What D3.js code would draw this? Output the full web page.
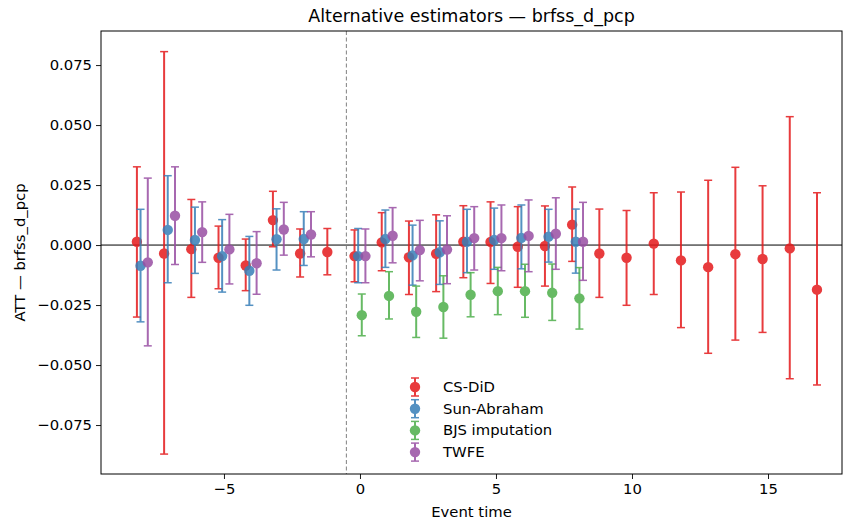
<!DOCTYPE html>
<html>
<head>
<meta charset="utf-8">
<script src="https://cdn.jsdelivr.net/npm/d3@7"></script>
<style>
  body { margin: 0; background: #fff; }
  svg { display: block; font-family: "DejaVu Sans", sans-serif; }
</style>
</head>
<body>
<div id="chart"></div>
<script>
// event times per estimator
const csTimes = [-8, -7, -6, -5, -4, -3, -2, -1, 0, 1, 2, 3, 4, 5, 6, 7, 8, 9, 10, 11, 12, 13, 14, 15, 16, 17];
const csEst = [0.0014, -0.0035, -0.0017, -0.0053, -0.0085, 0.0104, -0.0035, -0.0029, -0.0046, 0.0011, -0.0051, -0.0036, 0.0014, 0.0013, -0.0007, -0.0004, 0.0085, -0.0035, -0.0053, 0.0006, -0.0064, -0.0092, -0.0038, -0.0058, -0.0014, -0.0186];
const csLo = [-0.0300, -0.0871, -0.0218, -0.0182, -0.0190, -0.0007, -0.0133, -0.0124, -0.0153, -0.0107, -0.0206, -0.0194, -0.0136, -0.0160, -0.0176, -0.0171, -0.0068, -0.0218, -0.0251, -0.0206, -0.0344, -0.0451, -0.0396, -0.0364, -0.0557, -0.0583];
const csHi = [0.0326, 0.0806, 0.0190, 0.0079, 0.0025, 0.0224, 0.0067, 0.0069, 0.0063, 0.0135, 0.0100, 0.0126, 0.0164, 0.0180, 0.0160, 0.0163, 0.0242, 0.0150, 0.0144, 0.0218, 0.0221, 0.0270, 0.0324, 0.0247, 0.0535, 0.0218];

const saTimes = [-8, -7, -6, -5, -4, -3, -2, 0, 1, 2, 3, 4, 5, 6, 7, 8];
const saEst = [-0.0086, 0.0063, 0.0021, -0.0046, -0.0107, 0.0024, 0.0025, -0.0046, 0.0025, -0.0043, -0.0030, 0.0014, 0.0021, 0.0030, 0.0035, 0.0014];
const saLo = [-0.0320, -0.0157, -0.0118, -0.0196, -0.0251, -0.0104, -0.0085, -0.0157, -0.0093, -0.0167, -0.0164, -0.0115, -0.0101, -0.0099, -0.0071, -0.0117];
const saHi = [0.0149, 0.0289, 0.0158, 0.0106, 0.0036, 0.0151, 0.0139, 0.0069, 0.0146, 0.0083, 0.0101, 0.0149, 0.0154, 0.0167, 0.0149, 0.0150];

const bjsTimes = [0, 1, 2, 3, 4, 5, 6, 7, 8];
const bjsEst = [-0.0292, -0.0212, -0.0278, -0.0258, -0.0207, -0.0192, -0.0192, -0.0199, -0.0222];
const bjsLo = [-0.0378, -0.0308, -0.0385, -0.0388, -0.0299, -0.0290, -0.0301, -0.0314, -0.0350];
const bjsHi = [-0.0204, -0.0111, -0.0171, -0.0128, -0.0115, -0.0093, -0.0080, -0.0079, -0.0094];

const twTimes = [-8, -7, -6, -5, -4, -3, -2, 0, 1, 2, 3, 4, 5, 6, 7, 8];
const twEst = [-0.0072, 0.0122, 0.0054, -0.0018, -0.0076, 0.0065, 0.0044, -0.0046, 0.0039, -0.0021, -0.0019, 0.0029, 0.0029, 0.0038, 0.0047, 0.0014];
const twLo = [-0.0420, -0.0081, -0.0072, -0.0162, -0.0205, -0.0042, -0.0049, -0.0157, -0.0074, -0.0149, -0.0161, -0.0104, -0.0107, -0.0111, -0.0101, -0.0147];
const twHi = [0.0279, 0.0326, 0.0180, 0.0128, 0.0056, 0.0178, 0.0139, 0.0067, 0.0156, 0.0103, 0.0122, 0.0160, 0.0167, 0.0188, 0.0197, 0.0178];

const seriesNames = ['CS-DiD', 'Sun-Abraham', 'BJS imputation', 'TWFE'];
const seriesColors = ['#e41a1c', '#377eb8', '#4daf4a', '#984ea3'];
const xTicks = [-5, 0, 5, 10, 15];
const yTicks = [-0.075, -0.05, -0.025, 0, 0.025, 0.05, 0.075];

const series = [
  { times: csTimes, est: csEst, lo: csLo, hi: csHi },
  { times: saTimes, est: saEst, lo: saLo, hi: saHi },
  { times: bjsTimes, est: bjsEst, lo: bjsLo, hi: bjsHi },
  { times: twTimes, est: twEst, lo: twLo, hi: twHi }
].map((s, i) => ({
  ...s,
  name: seriesNames[i],
  color: seriesColors[i],
  offset: -0.2 + i * (0.4 / 3)
}));

const width = 843, height = 522;
const margin = { top: 31, right: 1, bottom: 48, left: 101 };
const plotW = width - margin.left - margin.right;
const plotH = height - margin.top - margin.bottom;
const fontSize = 14.8;

const svg = d3.select('#chart').append('svg')
  .attr('width', width)
  .attr('height', height);

const g = svg.append('g')
  .attr('transform', `translate(${margin.left},${margin.top})`);

const x = d3.scaleLinear().domain([-9.52, 17.72]).range([0, plotW]);
const y = d3.scaleLinear().domain([-0.0954, 0.0892]).range([plotH, 0]);

// clip
svg.append('defs').append('clipPath').attr('id', 'clip')
  .append('rect').attr('width', plotW).attr('height', plotH);

const plot = g.append('g').attr('clip-path', 'url(#clip)');

// zero line
plot.append('line')
  .attr('x1', 0).attr('x2', plotW)
  .attr('y1', y(0)).attr('y2', y(0))
  .attr('stroke', '#000').attr('stroke-width', 1);

// treatment line
plot.append('line')
  .attr('x1', x(-0.5)).attr('x2', x(-0.5))
  .attr('y1', 0).attr('y2', plotH)
  .attr('stroke', '#808080').attr('stroke-width', 1)
  .attr('stroke-dasharray', '4,2.5');

const capW = 4;

series.forEach(s => {
  const sg = plot.append('g').attr('opacity', 0.85);
  const rows = s.times.map((t, i) => ({ t: t + s.offset, est: s.est[i], lo: s.lo[i], hi: s.hi[i] }));

  sg.selectAll('.bar').data(rows).enter().append('line')
    .attr('x1', d => x(d.t)).attr('x2', d => x(d.t))
    .attr('y1', d => y(d.lo)).attr('y2', d => y(d.hi))
    .attr('stroke', s.color).attr('stroke-width', 2);

  ['lo', 'hi'].forEach(k => {
    sg.selectAll('.cap-' + k).data(rows).enter().append('line')
      .attr('x1', d => x(d.t) - capW).attr('x2', d => x(d.t) + capW)
      .attr('y1', d => y(d[k])).attr('y2', d => y(d[k]))
      .attr('stroke', s.color).attr('stroke-width', 1.5);
  });

  sg.selectAll('.pt').data(rows).enter().append('circle')
    .attr('cx', d => x(d.t)).attr('cy', d => y(d.est))
    .attr('r', 5.2)
    .attr('fill', s.color);
});

// axes
const xAxis = g.append('g')
  .attr('transform', `translate(0,${plotH})`)
  .call(d3.axisBottom(x).tickValues(xTicks).tickSize(5).tickPadding(4)
    .tickFormat(d => d < 0 ? '\u2212' + Math.abs(d) : d));
const yAxis = g.append('g')
  .call(d3.axisLeft(y).tickValues(yTicks).tickSize(5).tickPadding(4)
    .tickFormat(d => (d < 0 ? '\u2212' : '') + Math.abs(d).toFixed(3)));

[xAxis, yAxis].forEach(a => {
  a.select('.domain').remove();
  a.selectAll('text').attr('font-size', fontSize).attr('fill', '#000')
    .attr('font-family', '"DejaVu Sans", sans-serif');
  a.selectAll('line').attr('stroke', '#000').attr('stroke-width', 0.9);
});

// frame
g.append('rect')
  .attr('width', plotW).attr('height', plotH)
  .attr('fill', 'none').attr('stroke', '#000').attr('stroke-width', 1);

// title and labels
svg.append('text')
  .attr('x', margin.left + plotW / 2).attr('y', 22)
  .attr('text-anchor', 'middle')
  .attr('font-size', 17.5)
  .text('Alternative estimators \u2014 brfss_d_pcp');

svg.append('text')
  .attr('x', margin.left + plotW / 2).attr('y', 517)
  .attr('text-anchor', 'middle')
  .attr('font-size', fontSize)
  .text('Event time');

svg.append('text')
  .attr('transform', `translate(25,${margin.top + plotH / 2}) rotate(-90)`)
  .attr('text-anchor', 'middle')
  .attr('font-size', fontSize)
  .text('ATT \u2014 brfss_d_pcp');

// legend
const legend = svg.append('g').attr('transform', 'translate(415,387)');
series.forEach((s, i) => {
  const lg = legend.append('g')
    .attr('transform', `translate(0,${i * 21.7})`)
    .attr('opacity', 0.85);
  lg.append('line').attr('x1', 0).attr('x2', 0).attr('y1', -9).attr('y2', 9)
    .attr('stroke', s.color).attr('stroke-width', 2);
  [-9, 9].forEach(cy => lg.append('line')
    .attr('x1', -capW).attr('x2', capW).attr('y1', cy).attr('y2', cy)
    .attr('stroke', s.color).attr('stroke-width', 1.5));
  lg.append('circle').attr('r', 5.2).attr('fill', s.color);
  legend.append('text')
    .attr('x', 28).attr('y', i * 21.7 + 5)
    .attr('font-size', fontSize)
    .text(s.name);
});
</script>
</body>
</html>
